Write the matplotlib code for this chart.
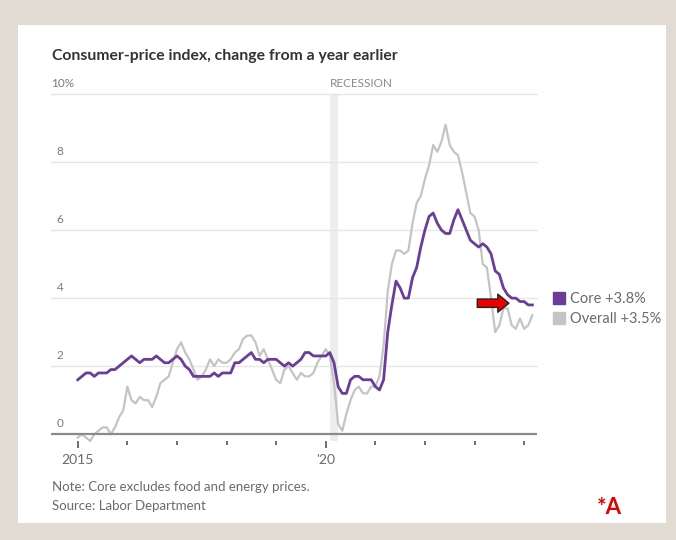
import numpy as np
import matplotlib
matplotlib.use("Agg")
import matplotlib.pyplot as plt
from matplotlib.lines import Line2D
from matplotlib.patches import Rectangle
import matplotlib.transforms as mtransforms

# monthly year-over-year change, Jan 2015 .. Mar 2024
core = [
    1.6, 1.7, 1.8, 1.8, 1.7, 1.8, 1.8, 1.8, 1.9, 1.9, 2.0, 2.1,
    2.2, 2.3, 2.2, 2.1, 2.2, 2.2, 2.2, 2.3, 2.2, 2.1, 2.1, 2.2,
    2.3, 2.2, 2.0, 1.9, 1.7, 1.7, 1.7, 1.7, 1.7, 1.8, 1.7, 1.8,
    1.8, 1.8, 2.1, 2.1, 2.2, 2.3, 2.4, 2.2, 2.2, 2.1, 2.2, 2.2,
    2.2, 2.1, 2.0, 2.1, 2.0, 2.1, 2.2, 2.4, 2.4, 2.3, 2.3, 2.3,
    2.3, 2.4, 2.1, 1.4, 1.2, 1.2, 1.6, 1.7, 1.7, 1.6, 1.6, 1.6,
    1.4, 1.3, 1.6, 3.0, 3.8, 4.5, 4.3, 4.0, 4.0, 4.6, 4.9, 5.5,
    6.0, 6.4, 6.5, 6.2, 6.0, 5.9, 5.9, 6.3, 6.6, 6.3, 6.0, 5.7,
    5.6, 5.5, 5.6, 5.5, 5.3, 4.8, 4.7, 4.3, 4.1, 4.0, 4.0, 3.9,
    3.9, 3.8, 3.8,
]
overall = [
    -0.1, 0.0, -0.1, -0.2, 0.0, 0.1, 0.2, 0.2, 0.0, 0.2, 0.5, 0.7,
    1.4, 1.0, 0.9, 1.1, 1.0, 1.0, 0.8, 1.1, 1.5, 1.6, 1.7, 2.1,
    2.5, 2.7, 2.4, 2.2, 1.9, 1.6, 1.7, 1.9, 2.2, 2.0, 2.2, 2.1,
    2.1, 2.2, 2.4, 2.5, 2.8, 2.9, 2.9, 2.7, 2.3, 2.5, 2.2, 1.9,
    1.6, 1.5, 1.9, 2.0, 1.8, 1.6, 1.8, 1.7, 1.7, 1.8, 2.1, 2.3,
    2.5, 2.3, 1.5, 0.3, 0.1, 0.6, 1.0, 1.3, 1.4, 1.2, 1.2, 1.4,
    1.4, 1.7, 2.6, 4.2, 5.0, 5.4, 5.4, 5.3, 5.4, 6.2, 6.8, 7.0,
    7.5, 7.9, 8.5, 8.3, 8.6, 9.1, 8.5, 8.3, 8.2, 7.7, 7.1, 6.5,
    6.4, 6.0, 5.0, 4.9, 4.0, 3.0, 3.2, 3.7, 3.7, 3.2, 3.1, 3.4,
    3.1, 3.2, 3.5,
]
months = 2015 + np.arange(len(core)) / 12.0

recession = (2020 + 1 / 12, 2020 + 3 / 12)
yticks = [0, 2, 4, 6, 8, 10]
ytick_labels = ["0", "2", "4", "6", "8", "10%"]
year_ticks = list(range(2015, 2025))
labelled_years = {2015: "2015", 2020: "'20"}
arrow_from = (2023.0, 3.85)
arrow_to = (2023.75, 3.85)

purple = "#6a3d9a"
gray_line = "#c4c4c4"
text_gray = "#6b6b6b"

plt.rcParams["font.family"] = ["Lato", "DejaVu Sans"]

W, H = 676, 540
fig = plt.figure(figsize=(W / 100, H / 100), dpi=100)
fig.patch.set_facecolor("#e2dbd3")
fig.patches.append(Rectangle((18 / W, 1 - 523 / H), (666 - 18) / W, (523 - 25) / H,
                             transform=fig.transFigure, facecolor="white",
                             edgecolor="none", zorder=-10))

ax = fig.add_axes([51 / W, 1 - 441 / H, (537 - 51) / W, (441 - 94) / H])
ax.set_facecolor("none")
ax.set_xlim(2014.46, 2024.26)
ax.set_ylim(-0.2, 10.0)

for v in yticks[1:]:
    ax.axhline(v, color="#e6e6e6", lw=1, zorder=1, clip_on=False)
ax.axhline(0, color="#8a8a8a", lw=1.6, zorder=4)

ax.axvspan(recession[0], recession[1], color="#ededf0", lw=0, zorder=0.5)
ax.text(recession[0], 10.15, "RECESSION", color="#8a8a8a", fontsize=8.5,
        va="bottom", ha="left")

ax.plot(months, overall, color=gray_line, lw=1.6, zorder=2, clip_on=False)
ax.plot(months, core, color=purple, lw=2.0, zorder=3, clip_on=False)

trans = mtransforms.blended_transform_factory(ax.transAxes, ax.transData)
for v, lab in zip(yticks, ytick_labels):
    x0 = 0.0 if lab.endswith("%") else 0.012
    ax.text(x0, v + 0.15, lab, transform=trans, color="#7a7a7a", fontsize=8.5,
            va="bottom", ha="left")
ax.set_yticks([])

for s in ["top", "right", "left", "bottom"]:
    ax.spines[s].set_visible(False)
ax.set_xticks([y for y in year_ticks if y in labelled_years])
ax.set_xticklabels([labelled_years[y] for y in year_ticks if y in labelled_years])
ax.set_xticks([y for y in year_ticks if y not in labelled_years], minor=True)
ax.tick_params(axis="x", which="major", length=5, width=1.2, color="#555555",
               labelsize=10, labelcolor="#6b6b6b", pad=4)
ax.tick_params(axis="x", which="minor", length=3, width=1.2, color="#555555")

ax.annotate("", xy=arrow_to, xytext=arrow_from,
            arrowprops=dict(arrowstyle="simple,head_length=0.8,head_width=1.3,tail_width=0.6",
                            facecolor="#ee0000", edgecolor="#222222", lw=1),
            zorder=6)

handles = [Line2D([], [], marker="s", ls="", color=purple, markersize=8.5),
           Line2D([], [], marker="s", ls="", color="#c4c4c4", markersize=8.5)]
fig.legend(handles, ["Core +3.8%", "Overall +3.5%"], loc="upper left",
           bbox_to_anchor=(546 / W, 1 - 286 / H), frameon=False, fontsize=10.5,
           labelcolor=text_gray, handletextpad=0.25, handlelength=1.0,
           labelspacing=0.4, borderaxespad=0)

fig.text(52 / W, 1 - 60 / H, "Consumer-price index, change from a year earlier",
         fontsize=11.3, fontweight="bold", color="#333333", ha="left", va="baseline")
fig.text(52 / W, 1 - 491 / H, "Note: Core excludes food and energy prices.",
         fontsize=9.5, color=text_gray, ha="left", va="baseline")
fig.text(52 / W, 1 - 510 / H, "Source: Labor Department",
         fontsize=9.5, color=text_gray, ha="left", va="baseline")
fig.text(597 / W, 1 - 514 / H, "*A", fontsize=16, fontweight="bold",
         color="#e00000", ha="left", va="baseline")

fig.savefig("out.png", dpi=100)
